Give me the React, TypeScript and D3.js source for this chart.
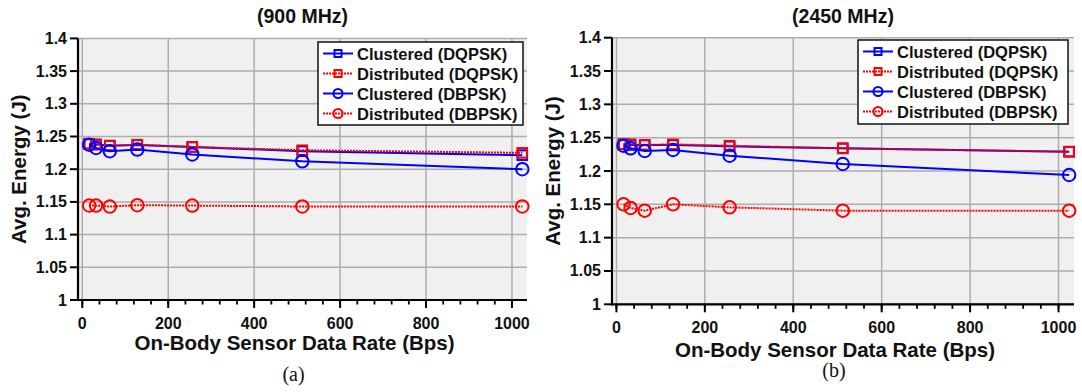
import React from "react";
import * as d3 from "d3";

const dataRates = [16, 32, 64, 128, 256, 512, 1024];
const seriesNames = ["Clustered (DQPSK)", "Distributed (DQPSK)", "Clustered (DBPSK)", "Distributed (DBPSK)"];

// 900 MHz
const clusteredDQPSK900 = [1.239, 1.238, 1.236, 1.237, 1.234, 1.2275, 1.2215];
const distributedDQPSK900 = [1.2385, 1.2375, 1.236, 1.2375, 1.234, 1.229, 1.225];
const clusteredDBPSK900 = [1.2375, 1.2325, 1.2275, 1.23, 1.2225, 1.212, 1.2];
const distributedDBPSK900 = [1.1445, 1.1444, 1.1429, 1.145, 1.1444, 1.143, 1.143];

// 2450 MHz
const clusteredDQPSK2450 = [1.24, 1.239, 1.239, 1.239, 1.237, 1.234, 1.229];
const distributedDQPSK2450 = [1.24, 1.24, 1.239, 1.24, 1.238, 1.234, 1.229];
const clusteredDBPSK2450 = [1.238, 1.234, 1.23, 1.2315, 1.223, 1.2105, 1.194];
const distributedDBPSK2450 = [1.15, 1.1445, 1.1405, 1.15, 1.1455, 1.1405, 1.1405];

const yTicks = [1, 1.05, 1.1, 1.15, 1.2, 1.25, 1.3, 1.35, 1.4];
const yTickLabels = ["1", "1.05", "1.1", "1.15", "1.2", "1.25", "1.3", "1.35", "1.4"];
const xTicks = [0, 200, 400, 600, 800, 1000];
const xMinorTicks = d3.range(0, 1001, 40);

const seriesStyles = [
  { color: "#0000ff", dash: "none", marker: "square" },
  { color: "#ff0000", dash: "2,1", marker: "square" },
  { color: "#0000ff", dash: "none", marker: "circle" },
  { color: "#ff0000", dash: "2,1", marker: "circle" },
];

const FONT = "'Liberation Sans', Arial, sans-serif";

function Marker({ type, x, y, color, size }: any) {
  if (type === "square") {
    return <rect x={x - size} y={y - size} width={size * 2} height={size * 2} fill="none" stroke={color} strokeWidth={2} />;
  }
  return <circle cx={x} cy={y} r={size * 1.3} fill="none" stroke={color} strokeWidth={2} />;
}

function Panel({ box, title, series, legend, caption, xLabelY, captionY, yLabelX }: any) {
  const x = d3.scaleLinear().domain([-10, 1035]).range([box.left, box.right]);
  const y = d3.scaleLinear().domain([1, 1.4]).range([box.bottom, box.top]);
  const line = d3
    .line<number>()
    .x((_, i) => x(dataRates[i]))
    .y((v) => y(v));
  const cx = (box.left + box.right) / 2;
  const cy = (box.top + box.bottom) / 2;
  return (
    <g>
      <rect x={box.left} y={box.top} width={box.right - box.left} height={box.bottom - box.top} fill="#f0f0f0" />
      {yTicks.map((t) => (
        <line key={"gy" + t} x1={box.left} x2={box.right} y1={y(t)} y2={y(t)} stroke="#adadad" strokeWidth={1.5} />
      ))}
      {xTicks.map((t) => (
        <line key={"gx" + t} x1={x(t)} x2={x(t)} y1={box.top} y2={box.bottom} stroke="#adadad" strokeWidth={1.5} />
      ))}
      {series.map((vals: number[], si: number) => {
        const st = seriesStyles[si];
        return (
          <g key={"s" + si}>
            <path d={line(vals) || ""} fill="none" stroke={st.color} strokeWidth={2} strokeDasharray={st.dash} />
            {vals.map((v, i) => (
              <Marker key={i} type={st.marker} x={x(dataRates[i])} y={y(v)} color={st.color} size={4.8} />
            ))}
          </g>
        );
      })}
      {/* axes */}
      <line x1={box.left} x2={box.left} y1={box.top} y2={box.bottom + 1} stroke="#000" strokeWidth={2.2} />
      <line x1={box.left - 1} x2={box.right} y1={box.bottom} y2={box.bottom} stroke="#000" strokeWidth={2.2} />
      {yTicks.map((t, i) => (
        <g key={"ty" + t}>
          <line x1={box.left - 8} x2={box.left} y1={y(t)} y2={y(t)} stroke="#000" strokeWidth={2} />
          <text x={box.left - 11} y={y(t) + 5.5} textAnchor="end" fontFamily={FONT} fontWeight="bold" fontSize={16} fill="#111">
            {yTickLabels[i]}
          </text>
        </g>
      ))}
      {xMinorTicks.map((t) => (
        <line key={"mx" + t} x1={x(t)} x2={x(t)} y1={box.bottom} y2={box.bottom + 4.5} stroke="#000" strokeWidth={1.8} />
      ))}
      {xTicks.map((t) => (
        <g key={"tx" + t}>
          <line x1={x(t)} x2={x(t)} y1={box.bottom} y2={box.bottom + 8} stroke="#000" strokeWidth={2} />
          <text x={x(t)} y={box.bottom + 29} textAnchor="middle" fontFamily={FONT} fontWeight="bold" fontSize={16} fill="#111">
            {t}
          </text>
        </g>
      ))}
      <text x={cx} y={23} textAnchor="middle" fontFamily={FONT} fontWeight="bold" fontSize={19.5} fill="#111">
        {title}
      </text>
      <text x={cx - 8} y={xLabelY} textAnchor="middle" fontFamily={FONT} fontWeight="bold" fontSize={20.5} fill="#111">
        On-Body Sensor Data Rate (Bps)
      </text>
      <text
        transform={`translate(${yLabelX},${cy}) rotate(-90)`}
        textAnchor="middle"
        fontFamily={FONT}
        fontWeight="bold"
        fontSize={20.5}
        fill="#111"
      >
        Avg. Energy (J)
      </text>
      <text x={cx - 9} y={captionY} textAnchor="middle" fontFamily="'Liberation Serif', 'Times New Roman', serif" fontSize={20} fill="#111">
        {caption}
      </text>
      {/* legend */}
      <rect x={legend.left} y={legend.top} width={legend.right - legend.left} height={legend.bottom - legend.top} fill="#fff" stroke="#111" strokeWidth={1.5} />
      {seriesNames.map((name, i) => {
        const st = seriesStyles[i];
        const ry = legend.top + 11.5 + i * 20;
        const lx0 = legend.left + 5;
        const lx1 = legend.left + 35;
        return (
          <g key={"lg" + i}>
            <line x1={lx0} x2={lx1} y1={ry} y2={ry} stroke={st.color} strokeWidth={2} strokeDasharray={st.dash} />
            <Marker type={st.marker} x={(lx0 + lx1) / 2} y={ry} color={st.color} size={3.5} />
            <text x={lx1 + 4} y={ry + 6} fontFamily={FONT} fontWeight="bold" fontSize={16.5} fill="#111">
              {name}
            </text>
          </g>
        );
      })}
    </g>
  );
}

export default function App() {
  return (
    <svg width={1082} height={392} style={{ position: "absolute", left: 0, top: 0, background: "#fff" }}>
      <rect width={1082} height={392} fill="#fff" />
      <Panel
        box={{ left: 78, right: 527, top: 38.4, bottom: 300 }}
        title="(900 MHz)"
        series={[clusteredDQPSK900, distributedDQPSK900, clusteredDBPSK900, distributedDBPSK900]}
        legend={{ left: 318, right: 523, top: 42, bottom: 125 }}
        caption="(a)"
        xLabelY={350}
        captionY={381}
        yLabelX={26}
      />
      <Panel
        box={{ left: 612, right: 1074, top: 37.7, bottom: 304.3 }}
        title="(2450 MHz)"
        series={[clusteredDQPSK2450, distributedDQPSK2450, clusteredDBPSK2450, distributedDBPSK2450]}
        legend={{ left: 858, right: 1068, top: 40, bottom: 124 }}
        caption="(b)"
        xLabelY={357}
        captionY={377}
        yLabelX={560}
      />
    </svg>
  );
}
